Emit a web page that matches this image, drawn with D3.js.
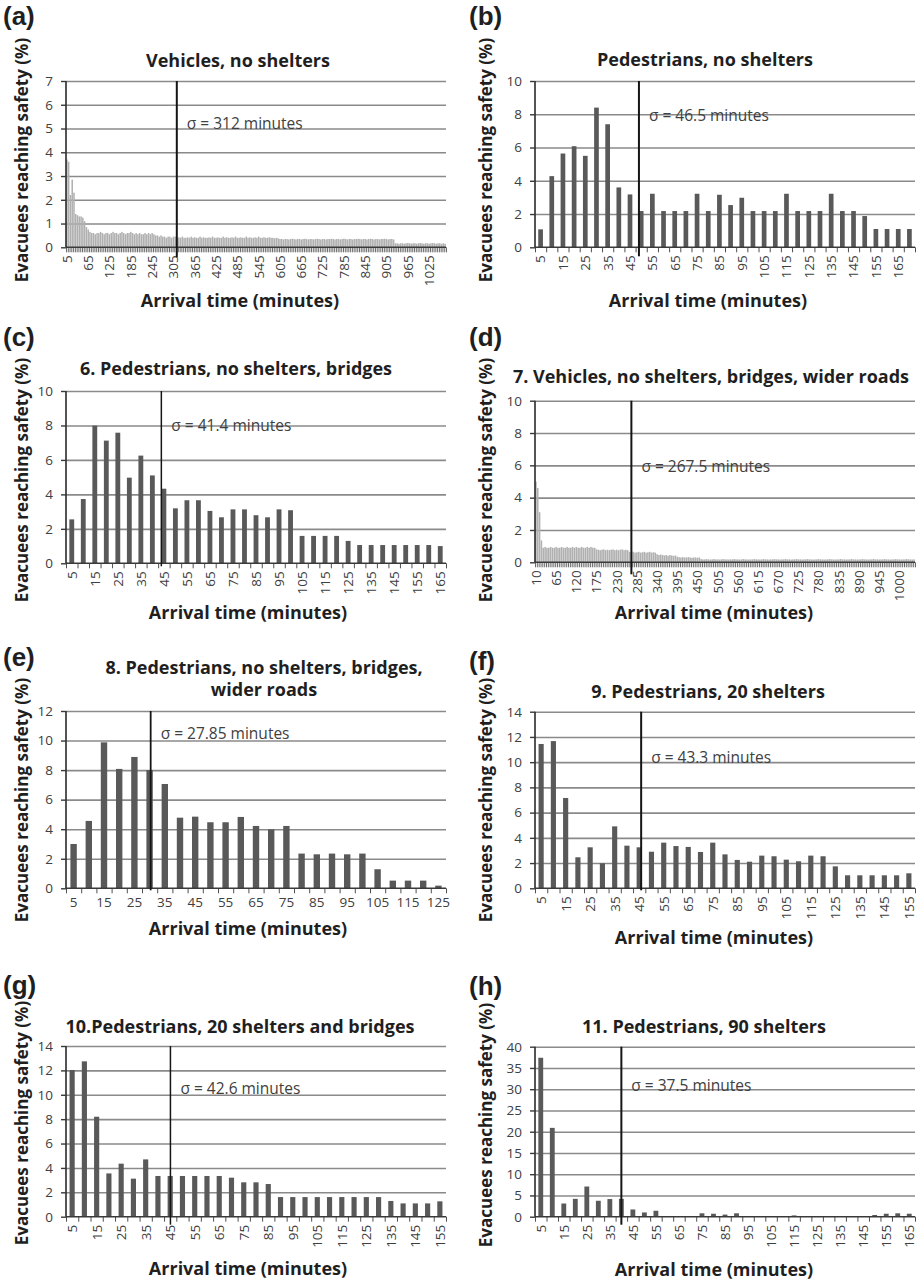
<!DOCTYPE html>
<html><head><meta charset="utf-8">
<script src="https://cdn.jsdelivr.net/npm/d3@7"></script>
<style>
body{margin:0;background:#fff;}
svg{display:block;}
</style></head><body>
<svg id="fig" width="917" height="1282"></svg>
<script>
// Arrival-time categories (minutes) for each scenario
const minutesA = d3.range(5, 1071, 5);
const minutesB = d3.range(5, 171, 5);
const minutesC = d3.range(5, 166, 5);
const minutesD = d3.range(10, 1041, 5);
const minutesE = d3.range(5, 126, 5);
const minutesF = d3.range(5, 156, 5);
const minutesG = d3.range(5, 156, 5);
const minutesH = d3.range(5, 166, 5);

// Tick labels shown on each category axis
const ticksA = [5,65,125,185,245,305,365,425,485,545,605,665,725,785,845,905,965,1025];
const ticksB = [5,15,25,35,45,55,65,75,85,95,105,115,125,135,145,155,165];
const ticksC = [5,15,25,35,45,55,65,75,85,95,105,115,125,135,145,155,165];
const ticksD = [10,65,120,175,230,285,340,395,450,505,560,615,670,725,780,835,890,945,1000];
const ticksE = [5,15,25,35,45,55,65,75,85,95,105,115,125];
const ticksF = [5,15,25,35,45,55,65,75,85,95,105,115,125,135,145,155];
const ticksG = [5,15,25,35,45,55,65,75,85,95,105,115,125,135,145,155];
const ticksH = [5,15,25,35,45,55,65,75,85,95,105,115,125,135,145,155,165];

// Evacuees reaching safety (%) per arrival-time bin
const vehiclesNoShelters = [
  3.7,3.6,2.2,2.85,2.3,1.4,1.35,1.3,1.3,1.25,1.1,0.85,0.75,0.65,0.6,
  0.6,0.55,0.6,0.6,0.65,0.6,0.55,0.6,0.6,0.55,0.6,0.65,0.6,0.6,0.55,0.6,0.65,0.6,0.55,0.6,
  0.6,0.65,0.6,0.55,0.6,0.55,0.6,0.55,0.55,0.6,0.55,0.6,0.55,0.6,0.55,
  0.5,0.5,0.45,0.5,0.45,0.45,0.4,0.45,0.45,0.4,0.45,
  0.45,0.4,0.42,0.4,0.45,0.4,0.4,0.42,0.4,0.45,
  0.4,0.42,0.4,0.4,0.45,0.4,0.42,0.4,0.4,0.42,
  0.4,0.45,0.4,0.4,0.42,0.4,0.4,0.45,0.4,0.42,
  0.4,0.4,0.42,0.4,0.45,0.4,0.4,0.42,0.4,0.4,
  0.45,0.4,0.42,0.4,0.4,0.42,0.4,0.45,0.4,0.4,
  0.42,0.4,0.4,0.42,0.4,0.4,0.38,0.4,0.38,
  0.35,0.35,0.33,0.35,0.35,0.33,0.35,0.36,0.35,0.33,
  0.35,0.35,0.33,0.35,0.36,0.35,0.33,0.35,0.35,0.33,
  0.35,0.36,0.35,0.33,0.35,0.35,0.33,0.35,0.35,0.36,
  0.35,0.33,0.35,0.35,0.33,0.35,0.36,0.35,0.33,0.35,
  0.35,0.33,0.35,0.35,0.36,0.35,0.33,0.35,0.35,0.33,
  0.35,0.36,0.35,0.33,0.35,0.35,0.33,0.35,0.35,0.36,
  0.35,0.33,0.35,0.35,0.33,
  0.17,0.17,0.15,0.17,0.17,0.15,0.17,0.18,0.17,0.15,
  0.17,0.17,0.15,0.17,0.18,0.17,0.15,0.17,0.17,0.15,
  0.17,0.18,0.17,0.15,0.17,0.17,0.15,0.17,0.15
];
const pedestriansNoShelters = [1.08,4.28,5.64,6.08,5.5,8.4,7.4,3.6,3.18,2.18,3.22,2.18,2.18,2.18,3.22,2.18,3.16,2.54,2.98,2.18,2.18,2.18,3.22,2.18,2.18,2.18,3.22,2.18,2.18,1.88,1.1,1.1,1.1,1.1];
const pedestriansBridges = [2.55,3.73,7.99,7.12,7.58,4.97,6.25,5.1,4.33,3.19,3.66,3.66,3.04,2.67,3.13,3.13,2.79,2.67,3.13,3.08,1.59,1.59,1.59,1.59,1.3,1.06,1.06,1.06,1.06,1.06,1.06,1.06,1.0];
const vehiclesBridgesWider = [
  5.0,4.6,3.1,1.35,
  0.9,0.95,0.9,0.9,0.95,0.9,0.9,0.95,0.9,0.9,0.95,0.9,0.9,0.95,0.9,0.9,0.95,0.9,0.95,0.9,0.9,0.95,0.9,0.9,0.95,0.9,0.95,0.9,0.9,
  0.8,0.78,0.75,0.78,0.8,0.75,0.78,0.75,0.78,0.8,0.75,0.78,0.75,0.78,0.8,0.75,0.78,0.75,
  0.65,0.62,0.65,0.6,0.62,0.65,0.6,0.62,0.65,0.6,0.62,0.65,0.6,0.62,0.6,
  0.5,0.45,0.48,0.45,0.42,0.45,0.4,0.45,0.42,0.4,0.42,
  0.35,0.32,0.3,0.32,0.3,0.3,0.32,0.3,0.28,0.3,0.3,0.28,0.3,
  0.2,0.18,0.18,0.2,0.18,0.17,0.18,0.2,0.18,0.18,
  0.17,0.18,0.2,0.18,0.18,0.17,0.18,0.18,0.2,0.18,
  0.18,0.17,0.18,0.2,0.18,0.18,0.17,0.18,0.18,0.2,
  0.18,0.18,0.17,0.18,0.2,0.18,0.18,0.17,0.18,0.18,
  0.2,0.18,0.18,0.17,0.18,0.18,0.2,0.18,0.18,0.17,
  0.18,0.18,0.2,0.18,0.18,0.17,0.18,0.18,0.2,0.18,
  0.18,0.17,0.18,0.18,0.2,0.18,0.18,0.17,0.18,0.18,
  0.2,0.18,0.18,0.17,0.18,0.18,0.2,0.18,0.18,0.17,
  0.18,0.18,0.2,0.18,0.18,0.17,0.18,0.18,0.2,0.18,
  0.18,0.17,0.18,0.18,0.2,0.18,0.18,0.17,0.18,0.18,
  0.2,0.18,0.18,0.17,0.18,0.18,0.2,0.18,0.18,0.17,
  0.18,0.18,0.2,0.18,0.18,0.17,0.18
];
const pedestriansBridgesWider = [3.0,4.56,9.88,8.08,8.89,8.0,7.06,4.78,4.85,4.47,4.47,4.83,4.22,3.99,4.22,2.35,2.3,2.35,2.3,2.35,1.29,0.52,0.52,0.52,0.18];
const pedestrians20Shelters = [11.44,11.67,7.16,2.46,3.25,1.98,4.91,3.38,3.25,2.9,3.62,3.35,3.28,2.88,3.62,2.69,2.25,2.11,2.59,2.54,2.27,2.14,2.59,2.54,1.74,1.03,1.03,1.03,1.03,1.03,1.19];
const pedestrians20SheltersBridges = [12.03,12.74,8.2,3.55,4.35,3.12,4.7,3.34,3.34,3.34,3.34,3.34,3.34,3.2,2.82,2.82,2.68,1.61,1.61,1.61,1.61,1.61,1.61,1.61,1.61,1.61,1.29,1.09,1.09,1.09,1.26];
const pedestrians90Shelters = [37.4,20.9,3.1,4.2,7.1,3.75,4.15,4.2,1.7,1.0,1.4,0,0,0.1,0.8,0.7,0.5,0.8,0,0,0,0,0.3,0,0,0,0,0,0,0.4,0.7,0.8,0.7];

// Mean arrival time (minutes) per scenario
const sigmaMinutes = [312, 46.5, 41.4, 267.5, 27.85, 43.3, 42.6, 37.5];

const FONT = "'Open Sans', Lato, sans-serif";
const INK = "#1f1f1f", LABEL = "#404040";

const panels = [
  {letter:"(a)", title:["Vehicles, no shelters"], cats:minutesA, values:vehiclesNoShelters, labels:ticksA, yMax:7, yStep:1, sigma:sigmaMinutes[0], sigmaAt:5.0, dense:true,
   box:{l:66,r:446,t:81,b:247.3}, letterXY:[3,25], titleXY:[238,[66.7]], yTitleXY:[22,160], xTitleXY:[240,306.5], lineExt:10, lineW:2},
  {letter:"(b)", title:["Pedestrians, no shelters"], cats:minutesB, values:pedestriansNoShelters, labels:ticksB, yMax:10, yStep:2, sigma:sigmaMinutes[1], sigmaAt:7.6,
   box:{l:535,r:915,t:81,b:247.3}, letterXY:[469,25], titleXY:[705,[65.5]], yTitleXY:[486,160], xTitleXY:[708,306.5], lineExt:9, lineW:2},
  {letter:"(c)", title:["6. Pedestrians, no shelters, bridges"], cats:minutesC, values:pedestriansBridges, labels:ticksC, yMax:10, yStep:2, sigma:sigmaMinutes[2], sigmaAt:7.7,
   box:{l:66,r:446,t:391,b:563.3}, letterXY:[3,346], titleXY:[236,[375]], yTitleXY:[22,480], xTitleXY:[248,619], lineExt:3, lineW:1.5},
  {letter:"(d)", title:["7. Vehicles, no shelters, bridges, wider roads"], cats:minutesD, values:vehiclesBridgesWider, labels:ticksD, yMax:10, yStep:2, sigma:sigmaMinutes[3], sigmaAt:5.6, dense:true,
   box:{l:535,r:915,t:400.7,b:562.3}, letterXY:[469,346], titleXY:[711,[383.3]], yTitleXY:[486,480], xTitleXY:[714,619], lineExt:12, lineW:2},
  {letter:"(e)", title:["8. Pedestrians, no shelters, bridges,","wider roads"], cats:minutesE, values:pedestriansBridgesWider, labels:ticksE, yMax:12, yStep:2, sigma:sigmaMinutes[4], sigmaAt:10.1, flat:true,
   box:{l:66,r:446,t:711,b:888.3}, letterXY:[3,666], titleXY:[264,[674.3,696]], yTitleXY:[22,800], xTitleXY:[248,935], lineExt:2, lineW:1.8},
  {letter:"(f)", title:["9. Pedestrians, 20 shelters"], cats:minutesF, values:pedestrians20Shelters, labels:ticksF, yMax:14, yStep:2, sigma:sigmaMinutes[5], sigmaAt:9.93,
   box:{l:535,r:915,t:711.7,b:888.3}, letterXY:[469,670], titleXY:[708,[698.3]], yTitleXY:[486,800], xTitleXY:[714,944], lineExt:2, lineW:2},
  {letter:"(g)", title:["10.Pedestrians, 20 shelters and bridges"], cats:minutesG, values:pedestrians20SheltersBridges, labels:ticksG, yMax:14, yStep:2, sigma:sigmaMinutes[6], sigmaAt:10.07,
   box:{l:66,r:446,t:1046,b:1216.7}, letterXY:[3,994], titleXY:[240,[1032.7]], yTitleXY:[22,1123], xTitleXY:[248,1275], lineExt:8, lineW:1.5},
  {letter:"(h)", title:["11. Pedestrians, 90 shelters"], cats:minutesH, values:pedestrians90Shelters, labels:ticksH, yMax:40, yStep:5, sigma:sigmaMinutes[7], sigmaAt:29.6,
   box:{l:535,r:915,t:1046.7,b:1216.7}, letterXY:[469,995], titleXY:[704,[1033]], yTitleXY:[486,1125], xTitleXY:[714,1275.5], lineExt:8, lineW:2}
];

const svg = d3.select("#fig");

panels.forEach(p => {
  const g = svg.append("g");
  const {l, r, t, b} = p.box;
  const step = p.cats[1] - p.cats[0];
  const x = d3.scaleBand().domain(p.cats).range([l, r]).paddingInner(0).paddingOuter(0);
  // continuous minute scale: each bin ends at its category value
  const xm = d3.scaleLinear().domain([p.cats[0] - step, p.cats[p.cats.length - 1]]).range([l, r]);
  const y = d3.scaleLinear().domain([0, p.yMax]).range([b, t]);
  const yTicks = d3.range(0, p.yMax + p.yStep / 2, p.yStep);

  // horizontal gridlines
  g.append("g").attr("transform", `translate(${l},0)`)
    .call(d3.axisLeft(y).tickValues(yTicks.slice(1)).tickSize(-(r - l)).tickFormat(""))
    .call(s => s.select(".domain").remove())
    .call(s => s.selectAll("line").attr("stroke", "#8a8a8a").attr("stroke-width", 1.6));

  // bars
  const rows = p.cats.map((c, i) => ({c, v: p.values[i] || 0}));
  const frac = p.dense ? 0.85 : 0.42;
  const bw = x.bandwidth() * frac;
  g.append("g").selectAll("rect").data(rows).join("rect")
    .attr("x", d => x(d.c) + (x.bandwidth() - bw) / 2)
    .attr("width", bw)
    .attr("y", d => y(d.v))
    .attr("height", d => y(0) - y(d.v))
    .attr("fill", p.dense ? "#b0b0b0" : "#595959");

  // category boundary tick marks
  const bounds = [p.cats[0] - step].concat(p.cats);
  g.append("g").attr("transform", `translate(0,${b})`)
    .call(d3.axisBottom(xm).tickValues(bounds).tickSize(5).tickFormat(""))
    .call(s => s.select(".domain").remove())
    .call(s => s.selectAll("line").attr("stroke", p.dense ? "#6a6a6a" : "#505050").attr("stroke-width", 1));

  // x axis baseline and y axis line
  g.append("line").attr("x1", l).attr("x2", r).attr("y1", b).attr("y2", b)
    .attr("stroke", "#3a3a3a").attr("stroke-width", 1.6);
  g.append("line").attr("x1", l).attr("x2", l).attr("y1", t).attr("y2", b)
    .attr("stroke", "#2a2a2a").attr("stroke-width", 1.6);

  // y axis ticks and labels
  const ya = g.append("g").attr("transform", `translate(${l},0)`)
    .call(d3.axisLeft(y).tickValues(yTicks).tickSize(5).tickPadding(8).tickFormat(d3.format("d")));
  ya.select(".domain").remove();
  ya.attr("font-family", FONT).attr("font-size", 13.5);
  ya.selectAll("line").attr("stroke", "#3a3a3a").attr("stroke-width", 1.4);
  ya.selectAll("text").attr("fill", LABEL);

  // x category labels
  const xa = g.append("g").attr("transform", `translate(0,${b})`)
    .call(d3.axisBottom(x).tickValues(p.labels).tickSize(0).tickPadding(9));
  xa.select(".domain").remove();
  xa.attr("font-family", FONT).attr("font-size", 13.5);
  xa.selectAll("text").attr("fill", LABEL);
  if (!p.flat) {
    xa.selectAll("text")
      .attr("transform", "rotate(-90)")
      .attr("x", -8).attr("y", 0).attr("dy", "0.36em")
      .attr("text-anchor", "end");
  } else {
    xa.selectAll("text").attr("y", 9);
  }

  // mean arrival time marker
  const sx = xm(p.sigma);
  g.append("line").attr("x1", sx).attr("x2", sx).attr("y1", t).attr("y2", b + p.lineExt)
    .attr("stroke", "#151515").attr("stroke-width", p.lineW);
  g.append("text").attr("x", sx + 10).attr("y", y(p.sigmaAt))
    .attr("font-family", FONT).attr("font-size", 15.5).attr("fill", LABEL)
    .text(`σ = ${p.sigma} minutes`);

  // panel letter
  g.append("text").attr("x", p.letterXY[0]).attr("y", p.letterXY[1])
    .attr("font-family", "'Liberation Sans', Arial, sans-serif").attr("font-weight", "bold")
    .attr("font-size", 26).attr("fill", INK).text(p.letter);

  // panel title
  p.title.forEach((line, i) => {
    g.append("text").attr("x", p.titleXY[0]).attr("y", p.titleXY[1][i])
      .attr("text-anchor", "middle").attr("font-family", FONT).attr("font-weight", "bold")
      .attr("font-size", 18).attr("fill", INK).text(line);
  });

  // axis titles
  g.append("text")
    .attr("transform", `translate(${p.yTitleXY[0]},${p.yTitleXY[1]}) rotate(-90)`)
    .attr("text-anchor", "middle").attr("dy", "0.35em")
    .attr("font-family", FONT).attr("font-weight", "bold").attr("font-size", 17)
    .attr("fill", INK).text("Evacuees reaching safety (%)");
  g.append("text").attr("x", p.xTitleXY[0]).attr("y", p.xTitleXY[1])
    .attr("text-anchor", "middle").attr("font-family", FONT).attr("font-weight", "bold")
    .attr("font-size", 18).attr("fill", INK).text("Arrival time (minutes)");
});
</script></body></html>
